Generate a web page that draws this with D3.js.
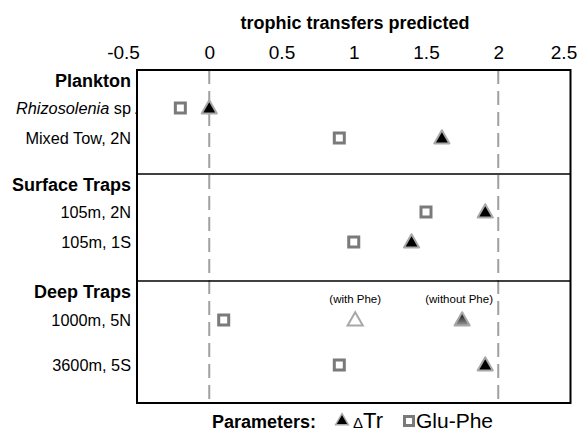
<!DOCTYPE html>
<html><head><meta charset="utf-8">
<script src="https://cdn.jsdelivr.net/npm/d3@7"></script>
<style>
body{margin:0;background:#fff;}
text{font-family:Arial,"Liberation Sans",sans-serif;}
</style></head><body>
<svg id="chart" width="579" height="434"></svg>
<script>
// ---- data ----
const groups = ["Plankton", "Surface Traps", "Deep Traps"];
const samples = ["Rhizosolenia sp", "Mixed Tow, 2N", "105m, 2N", "105m, 1S", "1000m, 5N", "3600m, 5S"];
const sampleGroup = [0, 0, 1, 1, 2, 2];
const deltaTr = [0.0, 1.61, 1.91, 1.40, 1.75, 1.91];          // ΔTr (without Phe for 1000m)
const deltaTrWithPhe = [null, null, null, null, 1.01, null];  // ΔTr with Phe
const gluPhe = [-0.2, 0.90, 1.50, 1.00, 0.10, 0.90];
const xTicks = [-0.5, 0, 0.5, 1, 1.5, 2, 2.5];
const xTickLabels = ["-0.5", "0", "0.5", "1", "1.5", "2", "2.5"];
const refLines = [0, 2];

// ---- layout ----
const svg = d3.select("#chart");
const L = 137, R = 570.5, T = 70, B = 403;
const x = d3.scaleLinear().domain([-0.5, 2.5]).range([L, R]);
const groupTop = d3.scaleOrdinal().domain(groups).range([T, 174, 281]);
const rowOffsets = [[38, 68], [38, 68], [39, 84]];
const rowY = samples.map((s, i) => {
  const g = sampleGroup[i];
  const k = sampleGroup.slice(0, i).filter(v => v === g).length;
  return groupTop(groups[g]) + rowOffsets[g][k];
});

const defs = svg.append("defs");
const grad = defs.append("linearGradient").attr("id", "tg").attr("x1", 0).attr("y1", 0).attr("x2", 0).attr("y2", 1);
grad.append("stop").attr("offset", "0%").attr("stop-color", "#000");
grad.append("stop").attr("offset", "100%").attr("stop-color", "#9a9a9a");

// title
svg.append("text").attr("x", 355).attr("y", 29).attr("text-anchor", "middle")
  .attr("font-weight", "bold").attr("font-size", 18).text("trophic transfers predicted");

// x axis on top, labels only
const ax = svg.append("g").attr("transform", `translate(0,${T})`)
  .call(d3.axisTop(x).tickValues(xTicks).tickSize(0).tickPadding(11)
    .tickFormat((d, i) => xTickLabels[i]));
ax.select(".domain").remove();
ax.selectAll("text").attr("font-size", 19).attr("font-family", "Arial, 'Liberation Sans', sans-serif").attr("fill", "#000");
ax.selectAll(".tick").filter(d => d === 2.5).select("text").attr("dx", -7);
ax.selectAll(".tick").filter(d => d === -0.5).select("text").attr("dx", -14);

// dashed reference lines
svg.selectAll(".ref").data(refLines).join("line")
  .attr("x1", d => x(d)).attr("x2", d => x(d)).attr("y1", T).attr("y2", B)
  .attr("stroke", "#a0a0a0").attr("stroke-width", 2).attr("stroke-dasharray", "14,7");

// group dividers
svg.selectAll(".div").data(groups.slice(1)).join("line")
  .attr("x1", L).attr("x2", R).attr("y1", d => groupTop(d)).attr("y2", d => groupTop(d))
  .attr("stroke", "#000").attr("stroke-width", 1.3);

// frame
svg.append("rect").attr("x", L).attr("y", T).attr("width", R - L).attr("height", B - T)
  .attr("fill", "none").attr("stroke", "#000").attr("stroke-width", 2);

// group headers
svg.selectAll(".hdr").data(groups).join("text")
  .attr("x", 131).attr("y", d => groupTop(d) + 17).attr("text-anchor", "end")
  .attr("font-weight", "bold").attr("font-size", 18).text(d => d);

// row labels
samples.forEach((s, i) => {
  const t = svg.append("text").attr("x", 131).attr("y", rowY[i] + 6).attr("text-anchor", "end").attr("font-size", 16.3);
  if (i === 0) {
    t.append("tspan").attr("font-style", "italic").text("Rhizosolenia");
    t.append("tspan").text(" sp");
    svg.append("text").attr("x", 134).attr("y", rowY[i] + 6).attr("font-size", 16).text(".");
  } else t.text(s);
});

const tri = d3.symbol().type(d3.symbolTriangle).size(100);
const sq = d => `M${-5},${-5}h10v10h-10z`;

// Glu-Phe squares
svg.selectAll(".sq").data(gluPhe).join("path")
  .attr("d", sq).attr("transform", (d, i) => `translate(${x(d)},${rowY[i]})`)
  .attr("fill", "#fff").attr("stroke", "#7a7a7a").attr("stroke-width", 3);

// ΔTr triangles
svg.selectAll(".tr").data(deltaTr).join("path")
  .attr("d", tri).attr("transform", (d, i) => `translate(${x(d)},${rowY[i] + 1})`)
  .attr("fill", (d, i) => deltaTrWithPhe[i] != null ? "url(#tg)" : "#000")
  .attr("stroke", "#a8a8a8").attr("stroke-width", 2).attr("stroke-linejoin", "round");

// ΔTr with Phe (open)
const wp = deltaTrWithPhe.map((d, i) => ({d, i})).filter(o => o.d != null);
svg.selectAll(".trw").data(wp).join("path")
  .attr("d", tri).attr("transform", o => `translate(${x(o.d)},${rowY[o.i] + 1})`)
  .attr("fill", "#fff").attr("stroke", "#a8a8a8").attr("stroke-width", 2);

// annotations
wp.forEach(o => {
  svg.append("text").attr("x", x(o.d)).attr("y", rowY[o.i] - 17).attr("text-anchor", "middle")
    .attr("font-size", 11.5).attr("font-family", "'Open Sans', 'Noto Sans', sans-serif").text("(with Phe)");
  svg.append("text").attr("x", x(deltaTr[o.i]) - 3).attr("y", rowY[o.i] - 17).attr("text-anchor", "middle")
    .attr("font-size", 11.5).attr("font-family", "'Open Sans', 'Noto Sans', sans-serif").text("(without Phe)");
});

// legend
const lg = svg.append("g");
lg.append("text").attr("x", 212).attr("y", 428).attr("font-weight", "bold").attr("font-size", 18).text("Parameters:");
lg.append("path").attr("d", d3.symbol().type(d3.symbolTriangle).size(70))
  .attr("transform", "translate(342,421)").attr("fill", "#000").attr("stroke", "#a8a8a8").attr("stroke-width", 1.5);
const dt = lg.append("text").attr("x", 353).attr("y", 428).attr("font-family", "'Liberation Serif','DejaVu Serif',serif");
dt.append("tspan").attr("font-size", 15).text("Δ");
dt.append("tspan").attr("font-size", 22).text("Tr");
lg.append("path").attr("d", "M-4.5,-4.5h9v9h-9z").attr("transform", "translate(409,421)")
  .attr("fill", "#fff").attr("stroke", "#7a7a7a").attr("stroke-width", 3);
lg.append("text").attr("x", 416).attr("y", 428).attr("font-size", 21).text("Glu-Phe");
</script>
</body></html>
